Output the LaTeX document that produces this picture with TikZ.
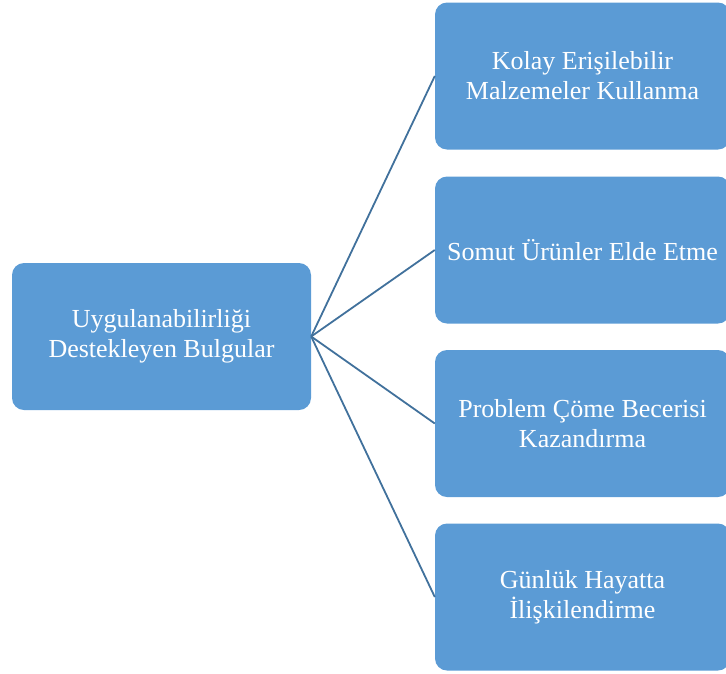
\documentclass[tikz,border=0pt]{standalone}
\usepackage{fontspec}
\setmainfont{Liberation Serif}
\definecolor{boxfill}{HTML}{5B9BD5}
\definecolor{linkcol}{HTML}{41719C}
\begin{document}
\begin{tikzpicture}[x=1pt,y=-1pt,
  box/.style={fill=boxfill, draw=none, rounded corners=12pt, text=white,
    font=\fontsize{26}{30}\selectfont, align=center, inner sep=0pt},
  rootbox/.style={box, minimum width=299pt, minimum height=147pt},
  rbox/.style={box, minimum width=295pt, minimum height=147pt},
  link/.style={draw=linkcol, line width=1.8pt}]
\useasboundingbox (0,0) rectangle (726,673);
\clip (0,0) rectangle (726,673);
\node[rootbox] (root) at (161.5,336.5) {Uygulanabilirliği\\Destekleyen Bulgular};
\node[rbox] (b1) at (582.5,76) {Kolay Erişilebilir\\Malzemeler Kullanma};
\node[rbox] (b2) at (582.5,250) {Somut Ürünler Elde Etme};
\node[rbox] (b3) at (582.5,423.5) {Problem Çöme Becerisi\\Kazandırma};
\node[rbox] (b4) at (582.5,597) {Günlük Hayatta\\İlişkilendirme};
\draw[link] (root.east) -- (b1.west);
\draw[link] (root.east) -- (b2.west);
\draw[link] (root.east) -- (b3.west);
\draw[link] (root.east) -- (b4.west);
\end{tikzpicture}
\end{document}
